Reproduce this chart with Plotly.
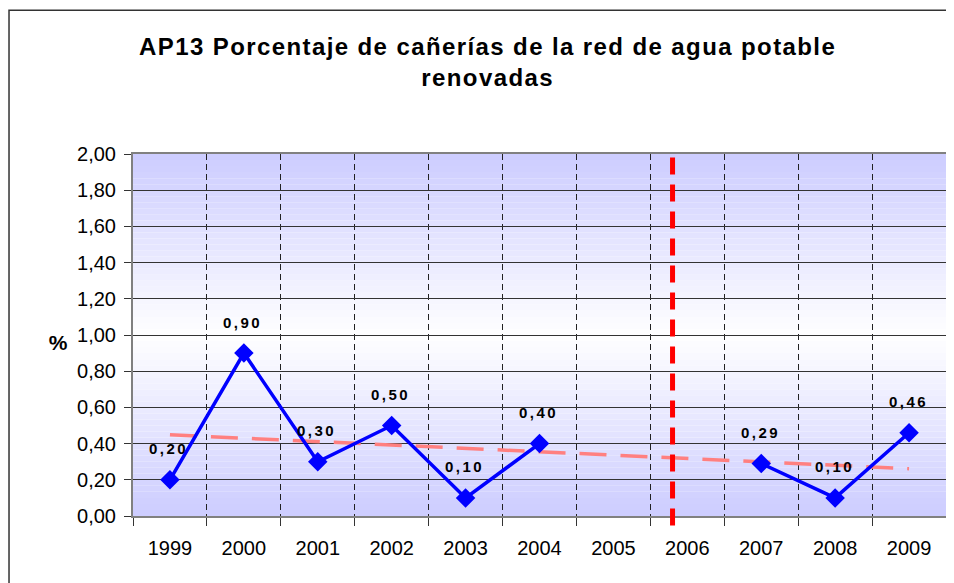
import numpy as np
import plotly.graph_objects as go

# ---- data ----
years = ["1999", "2000", "2001", "2002", "2003", "2004", "2005", "2006", "2007", "2008", "2009"]
values = [0.20, 0.90, 0.30, 0.50, 0.10, 0.40, None, None, 0.29, 0.10, 0.46]
value_labels = ["0,20", "0,90", "0,30", "0,50", "0,10", "0,40", "", "", "0,29", "0,10", "0,46"]
y_ticks = [0.0, 0.2, 0.4, 0.6, 0.8, 1.0, 1.2, 1.4, 1.6, 1.8, 2.0]
y_tick_labels = ["0,00", "0,20", "0,40", "0,60", "0,80", "1,00", "1,20", "1,40", "1,60", "1,80", "2,00"]
title_text = "<b>AP13 Porcentaje de cañerías de la red de agua potable<br>renovadas</b>"
divider_index = 6.8  # red dashed separator, just before 2006 category centre

FONT = "Liberation Sans, Arial, sans-serif"

# linear trendline (Excel-like) from available points
idx = np.array([i for i, v in enumerate(values) if v is not None], dtype=float)
vals = np.array([v for v in values if v is not None], dtype=float)
slope, intercept = np.polyfit(idx, vals, 1)
trend_x = [years[0], years[-1]]
trend_y = [intercept, intercept + slope * (len(years) - 1)]

fig = go.Figure()

fig.add_trace(go.Scatter(
    x=trend_x, y=trend_y, mode="lines",
    line=dict(color="#FF8080", width=3.5, dash="27px,14px"),
    hoverinfo="skip", showlegend=False,
))

fig.add_trace(go.Scatter(
    x=years, y=values, mode="lines+markers",
    line=dict(color="#0000FF", width=3.5),
    marker=dict(symbol="diamond", size=15, color="#0000FF"),
    connectgaps=False, showlegend=False,
))

# data labels
for i, (v, lab) in enumerate(zip(values, value_labels)):
    if v is None:
        continue
    fig.add_annotation(x=i, y=v, xref="x", yref="y", text="<b>" + lab + "</b>", showarrow=False,
                       yshift=31, xshift=-1,
                       font=dict(family=FONT, size=15, color="black"))

shapes = []
# gradient background (lavender at edges, white in the middle)
n_bands = 60
y_lo, y_hi = y_ticks[0], y_ticks[-1]
mid = (y_lo + y_hi) / 2
for k in range(n_bands):
    b0 = y_lo + (y_hi - y_lo) * k / n_bands
    b1 = y_lo + (y_hi - y_lo) * (k + 1) / n_bands
    c = (b0 + b1) / 2
    t = abs(c - mid) / (mid - y_lo)
    r = int(round(255 - (255 - 204) * t))
    shapes.append(dict(type="rect", xref="paper", yref="y", x0=0, x1=1, y0=b0, y1=b1,
                       fillcolor=f"rgb({r},{r},255)", line=dict(width=0), layer="below"))

# red dashed divider
shapes.append(dict(type="line", xref="x", yref="paper", x0=divider_index, x1=divider_index,
                   y0=-0.026, y1=1.0, line=dict(color="#FF0000", width=5, dash="17px,10px")))

# outer chart border
shapes.append(dict(type="rect", xref="paper", yref="paper", x0=-0.1525, x1=1.2, y0=-0.5, y1=1.397,
                   line=dict(color="#333333", width=1.5), fillcolor="rgba(0,0,0,0)"))

fig.update_layout(
    width=946, height=575,
    margin=dict(l=125, r=6, t=146, b=67),
    paper_bgcolor="white", plot_bgcolor="white",
    title=dict(text=title_text, x=0.507, xref="container", xanchor="center",
               y=1 - 47 / 575, yref="container", yanchor="top",
               font=dict(family=FONT, size=24, color="black")),
    font=dict(family=FONT, size=20, color="black"),
    shapes=shapes,
    showlegend=False,
)

fig.add_annotation(text="<b>%</b>", xref="paper", yref="paper", x=-0.1043, y=0.478,
                   showarrow=False, font=dict(family=FONT, size=21, color="black"))

fig.update_xaxes(
    type="category", categoryorder="array", categoryarray=years,
    range=[-0.5, len(years) - 0.5],
    tickson="boundaries", ticks="outside", ticklen=8, tickcolor="#333333",
    showgrid=True, gridcolor="#222222", gridwidth=1, griddash="6px,4px",
    showline=True, linecolor="#808080", linewidth=2, mirror=True,
    tickfont=dict(family=FONT, size=20, color="black"),
    ticklabelstandoff=13,
)
fig.update_yaxes(
    range=[y_lo, y_hi], tickmode="array", tickvals=y_ticks, ticktext=y_tick_labels,
    ticks="outside", ticklen=7, tickcolor="#333333",
    showgrid=True, gridcolor="#333333", gridwidth=1,
    zeroline=False,
    showline=True, linecolor="#808080", linewidth=2, mirror=True,
    tickfont=dict(family=FONT, size=20, color="black"),
    ticklabelstandoff=4,
)

post_js = """
var gd = document.getElementById('{plot_id}');
function spacing() {
  gd.querySelectorAll('.gtitle').forEach(function(e){ e.style.letterSpacing = '1.4px'; });
  gd.querySelectorAll('.annotation-text').forEach(function(e){ e.style.letterSpacing = '2.5px'; });
}
spacing();
if (gd.on) { gd.on('plotly_afterplot', spacing); }
"""

fig.write_html("out.html", post_script=post_js)
